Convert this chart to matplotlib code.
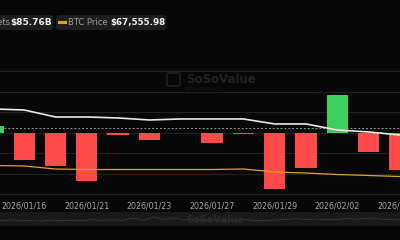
import matplotlib.pyplot as plt
from matplotlib.patches import FancyBboxPatch

# daily net inflow of BTC spot ETFs (US$ M)
dates = ['2026/01/15', '2026/01/16', '2026/01/20', '2026/01/21', '2026/01/22', '2026/01/23',
         '2026/01/26', '2026/01/27', '2026/01/28', '2026/01/29', '2026/01/30', '2026/02/02',
         '2026/02/03', '2026/02/04']
net_inflow = [100.2, -394.7, -483.4, -708.7, -32.0, -103.6, 6.8, -147.4, -19.6, -817.9,
              -509.7, 561.8, -272.0, -544.9]
total_assets = [127.4, 125.8, 114.6, 114.6, 113.0, 109.8, 111.4, 111.4, 111.4, 103.4,
                103.4, 93.8, 90.6, 85.76]
btc_price = [95000, 94000, 88000, 87000, 87000, 87000, 87000, 87000, 88000, 82000,
             80000, 77000, 75000, 73000]
label_idx = [1, 3, 5, 7, 9, 11, 13]
nav_line = [3, 3.5, 3, 3.2, 2.8, 3.4, 3, 3.3, 3.1, 3.6, 3.2, 3.5, 3.3, 4.5, 3.2, 5.2, 3.8,
            4.6, 3.4, 3.6, 3.2, 3.4, 3.1, 3.3, 3.6, 3.0, 3.2, 3.5, 3.8, 4.2, 3.6, 3.9, 3.5,
            3.8, 4.3, 3.9, 4.6, 4.0, 3.7, 3.5]

bg = '#070707'
W, H = 400, 240

def fx(p):
    return p / W

def fy(p):
    return 1 - p / H

fig = plt.figure(figsize=(4, 2.4), dpi=100, facecolor=bg)

# main chart area
ax = fig.add_axes([0, fy(199), 1, (199 - 30) / H])
ax.set_facecolor(bg)
x = list(range(len(dates)))
colors = ['#3ccf5c' if v >= 0 else '#fe4a49' for v in net_inflow]
ax.bar(x, net_inflow, width=0.68, color=colors, zorder=2)
ax.set_xlim(0.228, 12.57)
ax.set_ylim(-966, 1507)
ax.set_yticks([-900, -600, -300, 0, 300, 600, 900])
ax.grid(axis='y', color='#222222', lw=0.8, zorder=0)
ax.axhline(75, color='#9a9a9a', lw=0.7, ls=(0, (2, 2)), zorder=3)
ax.set_yticklabels([])
ax.set_xticks(label_idx)
ax.set_xticklabels([dates[i] for i in label_idx], color='#a8a8a8', fontsize=5.7)
ax.tick_params(length=0, pad=1.5)
for s in ax.spines.values():
    s.set_visible(False)

ax2 = ax.twinx()
ax2.plot(x, total_assets, color='#e8e8e8', lw=1.2, zorder=4)
ax2.set_ylim(-16.64, 253.76)
ax2.axis('off')

ax3 = ax.twinx()
ax3.plot(x, btc_price, color='#e7a022', lw=0.9, zorder=4)
ax3.set_ylim(28000, 366000)
ax3.axis('off')

# watermark
fig.text(fx(186), fy(80), 'SoSoValue', color='#222222', fontsize=8.5,
         fontweight='bold', va='center')
fig.text(fx(186), fy(88), 'sosovalue.com', color='#1c1c1c', fontsize=3.5, va='center')
fig.patches.append(FancyBboxPatch((fx(167), fy(86)), fx(13), 13 / H, boxstyle='round,pad=0,rounding_size=0.005',
                                  transform=fig.transFigure, fc='none', ec='#222222', lw=1.2))

# navigator
nav = fig.add_axes([0, fy(226), 1, 14 / H])
nav.set_facecolor('#191919')
nav.plot(range(len(nav_line)), nav_line, color='#3a3a3a', lw=0.6)
nav.set_xlim(0, len(nav_line) - 1)
nav.set_ylim(0, 8)
nav.axis('off')
nav.add_patch(plt.Rectangle((0, 0), 1, 1, transform=nav.transAxes, fc='#191919', zorder=0))
fig.text(fx(186), fy(220), 'SoSoValue', color='#2a2a2a', fontsize=7, fontweight='bold', va='center')

# legend boxes
for x0, x1 in [(-20, 53), (56, 166)]:
    fig.patches.append(FancyBboxPatch((fx(x0), fy(30)), fx(x1 - x0), 15 / H,
                                      boxstyle='round,pad=0,rounding_size=0.008',
                                      transform=fig.transFigure, fc='#1e1e1e', ec='none'))
fig.text(fx(10.5), fy(22.5), 'Total Net Assets', color='#9c9c9c', fontsize=6, ha='right', va='center')
fig.text(fx(51.5), fy(22.5), '$85.76B', color='#f0f0f0', fontsize=6.5, fontweight='bold', ha='right', va='center')
fig.lines.append(plt.Line2D([fx(59), fx(65)], [fy(22), fy(22)], transform=fig.transFigure,
                            color='#e7a022', lw=2.2))
fig.text(fx(68), fy(22.5), 'BTC Price', color='#9c9c9c', fontsize=6, va='center')
fig.text(fx(110), fy(22.5), '$67,555.98', color='#f0f0f0', fontsize=6.3, fontweight='bold', va='center')

fig.savefig('out.png', dpi=100, facecolor=bg)
